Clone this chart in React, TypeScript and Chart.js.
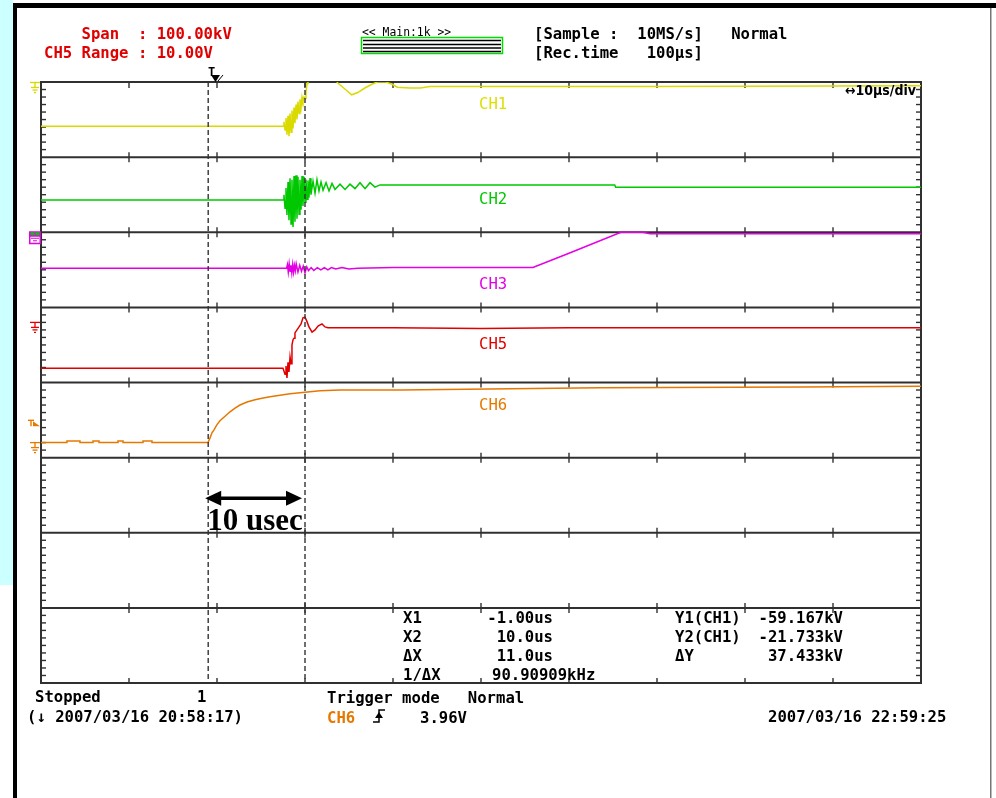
import React, { useEffect, useRef } from "react";
import { Chart, registerables } from "chart.js";

Chart.register(...registerables);

// ---- axes: time in µs (10 µs/div), vertical in divisions ----
const timeMin = -20;
const timeMax = 80;
const timeTicks = [-10, 0, 10, 20, 30, 40, 50, 60, 70];
const divMin = 0;
const divMax = 8;

// ---- traces: [time µs, position in divisions] ----
const ch1: [number, number][] = [
  [-20, 7.41], [7.5, 7.41], [7.61, 7.47], [7.73, 7.36], [7.84, 7.52], [7.95, 7.3], [8.07, 7.55],
  [8.18, 7.28], [8.3, 7.58], [8.41, 7.33], [8.52, 7.62], [8.64, 7.38], [8.75, 7.66], [8.86, 7.45],
  [8.98, 7.7], [9.09, 7.5], [9.2, 7.74], [9.32, 7.58], [9.43, 7.77], [9.55, 7.66], [9.66, 7.8],
  [9.77, 7.74], [9.89, 7.8], [10.0, 7.78], [10.11, 7.86], [10.23, 7.98], [10.34, 8.05], [10.57, 8.15],
  [11.1, 8.3], [12.3, 8.35], [13.4, 8.05], [13.7, 7.99], [14.6, 7.9], [15.3, 7.83], [16.0, 7.86],
  [16.8, 7.92], [17.6, 7.97], [18.2, 8.0], [19.2, 8.0], [19.9, 7.97], [20.5, 7.93], [21.9, 7.92],
  [23.1, 7.92], [24.2, 7.94], [50, 7.94], [80, 7.95],
];

const ch2: [number, number][] = [
  [-20, 6.43], [7.5, 6.43], [7.61, 6.5], [7.73, 6.32], [7.84, 6.59], [7.95, 6.23], [8.07, 6.67],
  [8.18, 6.16], [8.3, 6.72], [8.41, 6.11], [8.52, 6.7], [8.64, 6.07], [8.75, 6.75], [8.86, 6.14],
  [8.98, 6.76], [9.09, 6.18], [9.2, 6.74], [9.32, 6.24], [9.43, 6.7], [9.55, 6.3], [9.66, 6.75],
  [9.77, 6.35], [9.89, 6.74], [10.0, 6.4], [10.11, 6.7], [10.23, 6.44], [10.34, 6.69], [10.45, 6.46],
  [10.57, 6.72], [10.68, 6.5], [10.91, 6.68], [11.14, 6.52], [11.36, 6.7], [11.59, 6.55],
  [11.82, 6.67], [12.05, 6.56], [12.39, 6.66], [12.73, 6.55], [13.07, 6.65], [13.41, 6.57],
  [13.98, 6.64], [14.55, 6.57], [15.11, 6.64], [15.68, 6.58], [16.25, 6.66], [16.82, 6.58],
  [17.39, 6.66], [17.95, 6.6], [18.52, 6.63], [20.8, 6.63], [45.2, 6.63], [45.3, 6.6], [80, 6.6],
];

const ch3: [number, number][] = [
  [-20, 5.52], [7.9, 5.52], [8.0, 5.57], [8.1, 5.47], [8.2, 5.58], [8.3, 5.48], [8.4, 5.56],
  [8.5, 5.46], [8.6, 5.57], [8.7, 5.47], [8.8, 5.56], [8.9, 5.49], [9.0, 5.58], [9.2, 5.47],
  [9.4, 5.56], [9.6, 5.48], [9.8, 5.55], [10.0, 5.46], [10.2, 5.54], [10.4, 5.49], [10.7, 5.53],
  [11.0, 5.49], [11.4, 5.53], [11.8, 5.5], [12.2, 5.53], [12.6, 5.5], [13.0, 5.53], [13.5, 5.51],
  [14.2, 5.53], [15.0, 5.51], [16.0, 5.52], [20.0, 5.53], [35.9, 5.53], [40.0, 5.72],
  [45.9, 6.0], [48.4, 6.0], [49.2, 5.98], [80, 5.98],
];

const ch5: [number, number][] = [
  [-20, 4.19], [7.5, 4.19], [7.73, 4.11], [7.84, 4.22], [7.95, 4.06], [8.07, 4.27], [8.18, 4.14],
  [8.3, 4.34], [8.41, 4.25], [8.52, 4.5], [8.64, 4.57], [8.75, 4.59], [8.86, 4.66], [9.09, 4.7],
  [9.32, 4.74], [9.55, 4.78], [9.77, 4.86], [10.0, 4.87], [10.23, 4.81], [10.45, 4.74], [10.8, 4.67],
  [11.14, 4.7], [11.48, 4.75], [11.93, 4.78], [12.27, 4.74], [12.61, 4.73], [20, 4.73], [30, 4.72],
  [40, 4.73], [80, 4.73],
];

const ch6: [number, number][] = [
  [-20, 3.2], [-17.05, 3.2], [-17.05, 3.22], [-15.57, 3.22], [-15.57, 3.2], [-14.09, 3.2],
  [-14.09, 3.22], [-13.41, 3.22], [-13.41, 3.2], [-11.25, 3.2], [-11.25, 3.22], [-10.68, 3.22],
  [-10.68, 3.2], [-8.41, 3.2], [-8.41, 3.22], [-7.39, 3.22], [-7.39, 3.2], [-1.02, 3.2],
  [-0.8, 3.26], [-0.57, 3.33], [-0.34, 3.37], [0, 3.44], [0.34, 3.49], [0.91, 3.55], [1.48, 3.61],
  [2.05, 3.66], [2.61, 3.7], [3.41, 3.74], [4.32, 3.77], [5.11, 3.79], [6.02, 3.81], [7.16, 3.83],
  [8.3, 3.85], [10.0, 3.87], [11.7, 3.89], [14.0, 3.9], [20.8, 3.9], [43.5, 3.93], [66.3, 3.94],
  [80, 3.95],
];

const channelNames = ["CH1", "CH2", "CH3", "CH5", "CH6"];
const channelColors = ["#dada00", "#00c800", "#e400e4", "#e00000", "#e67800"];
const channelData = [ch1, ch2, ch3, ch5, ch6];

const cursorTimes = [-1, 10];
const triggerTime = 0;

const W = 996;
const H = 798;
const MONO = "bold 15.6px 'DejaVu Sans Mono', 'Liberation Mono', monospace";
const MONO_LABEL = "15.6px 'DejaVu Sans Mono', 'Liberation Mono', monospace";
const MONO_SMALL = "11.4px 'DejaVu Sans Mono', 'Liberation Mono', monospace";

function text(ctx: CanvasRenderingContext2D, s: string, x: number, cy: number, color: string, font = MONO, align: CanvasTextAlign = "left") {
  ctx.font = font;
  ctx.fillStyle = color;
  ctx.textAlign = align;
  ctx.textBaseline = "alphabetic";
  ctx.fillText(s, x, cy + 5.6);
}

function seg(ctx: CanvasRenderingContext2D, x1: number, y1: number, x2: number, y2: number) {
  ctx.beginPath();
  ctx.moveTo(x1, y1);
  ctx.lineTo(x2, y2);
  ctx.stroke();
}

function ground(ctx: CanvasRenderingContext2D, cx: number, y: number, color: string) {
  ctx.strokeStyle = color;
  ctx.lineWidth = 1.3;
  seg(ctx, cx - 5, y, cx + 5, y);
  seg(ctx, cx, y, cx, y + 5);
  seg(ctx, cx - 4, y + 5, cx + 4, y + 5);
  seg(ctx, cx - 2.5, y + 7.5, cx + 2.5, y + 7.5);
  seg(ctx, cx - 1, y + 10, cx + 1, y + 10);
}

const scopePlugin = {
  id: "scope",
  beforeDraw(chart: any) {
    const ctx: CanvasRenderingContext2D = chart.ctx;
    ctx.save();
    ctx.fillStyle = "#ffffff";
    ctx.fillRect(0, 0, W, H);
    ctx.fillStyle = "#ccffff";
    ctx.fillRect(0, 0, 13, 585);
    ctx.fillStyle = "#000";
    ctx.fillRect(13, 3, 4, H - 3);
    ctx.fillRect(13, 3, W - 13, 5);
    ctx.fillStyle = "#777";
    ctx.fillRect(990, 8, 1.5, H - 8);
    ctx.restore();
  },
  beforeDatasetsDraw(chart: any) {
    const ctx: CanvasRenderingContext2D = chart.ctx;
    const { left, right, top, bottom } = chart.chartArea;
    const xs = chart.scales.x;
    const ys = chart.scales.y;
    ctx.save();
    ctx.strokeStyle = "#303030";
    ctx.lineWidth = 2;
    for (let d = divMin; d <= divMax; d++) {
      const y = ys.getPixelForValue(d);
      seg(ctx, left - 1, y, right + 1, y);
    }
    seg(ctx, left, top, left, bottom);
    seg(ctx, right, top, right, bottom);
    ctx.lineWidth = 1.4;
    for (const t of timeTicks) {
      const x = xs.getPixelForValue(t);
      for (let d = divMin; d <= divMax; d++) {
        const y = ys.getPixelForValue(d);
        const up = d === divMax ? 0 : 5;
        const down = d === divMin ? 0 : 5;
        seg(ctx, x, y - up, x, y + down + (d === divMax ? 1 : 0));
      }
    }
    for (let k = 1; k < divMax * 10; k++) {
      if (k % 10 === 0) continue;
      const y = ys.getPixelForValue(k / 10);
      seg(ctx, left, y, left + 5, y);
      seg(ctx, right - 5, y, right, y);
    }
    ctx.restore();
  },
  afterDatasetsDraw(chart: any) {
    const ctx: CanvasRenderingContext2D = chart.ctx;
    const { top, bottom } = chart.chartArea;
    const xs = chart.scales.x;
    const ys = chart.scales.y;
    ctx.save();

    // cursors
    ctx.strokeStyle = "#333";
    ctx.lineWidth = 1.4;
    ctx.setLineDash([5, 3]);
    for (const t of cursorTimes) {
      const x = xs.getPixelForValue(t);
      seg(ctx, x, top, x, bottom);
    }
    ctx.setLineDash([]);

    // trigger marker
    const tx = xs.getPixelForValue(triggerTime);
    ctx.font = "bold 12px 'DejaVu Sans Mono', monospace";
    ctx.fillStyle = "#000";
    ctx.textAlign = "left";
    ctx.textBaseline = "alphabetic";
    ctx.fillText("T", tx - 9, top - 6);
    ctx.beginPath();
    ctx.moveTo(tx - 6, top - 7);
    ctx.lineTo(tx + 3, top - 7);
    ctx.lineTo(tx - 1.5, top);
    ctx.closePath();
    ctx.fill();
    ctx.strokeStyle = "#000";
    ctx.lineWidth = 1;
    seg(ctx, tx + 1, top - 1, tx + 6, top - 7);

    // channel labels
    const labelDiv = [7.72, 6.45, 5.32, 4.52, 3.71];
    channelNames.forEach((n, i) => {
      text(ctx, n, 479, ys.getPixelForValue(labelDiv[i]), i === 0 ? "#dede00" : channelColors[i], MONO_LABEL);
    });

    // left channel markers
    ground(ctx, 35, ys.getPixelForValue(8) + 0.5, "#d8d800");
    ground(ctx, 35, ys.getPixelForValue(4.8), "#e00000");
    ground(ctx, 35, ys.getPixelForValue(3.2), "#e67800");
    // CH3 box
    const by = ys.getPixelForValue(6);
    ctx.fillStyle = "#e400e4";
    ctx.fillRect(29, by - 1, 12, 13);
    ctx.fillStyle = "#00c800";
    ctx.fillRect(30.5, by, 4, 3);
    ctx.fillRect(35.5, by, 4, 3);
    ctx.fillStyle = "#fff";
    ctx.fillRect(30.5, by + 4.5, 9, 6);
    ctx.strokeStyle = "#e400e4";
    ctx.lineWidth = 1;
    seg(ctx, 31, by + 6, 39, by + 6);
    seg(ctx, 33, by + 8.5, 37, by + 8.5);
    // CH6 trigger level marker
    const ty = ys.getPixelForValue(3.47);
    ctx.strokeStyle = "#e67800";
    ctx.lineWidth = 1.4;
    seg(ctx, 28, ty - 2, 34, ty - 2);
    seg(ctx, 31, ty - 2, 31, ty + 4);
    ctx.fillStyle = "#e67800";
    ctx.beginPath();
    ctx.moveTo(33, ty - 1);
    ctx.lineTo(33, ty + 4);
    ctx.lineTo(40, ty + 4);
    ctx.closePath();
    ctx.fill();

    // 10 usec arrow
    const x1 = xs.getPixelForValue(cursorTimes[0]) - 3;
    const x2 = xs.getPixelForValue(cursorTimes[1]) - 3;
    const ay = ys.getPixelForValue(2.46);
    ctx.strokeStyle = "#000";
    ctx.fillStyle = "#000";
    ctx.lineWidth = 3.5;
    seg(ctx, x1 + 10, ay, x2 - 10, ay);
    ctx.beginPath();
    ctx.moveTo(x1, ay);
    ctx.lineTo(x1 + 16, ay - 7.5);
    ctx.lineTo(x1 + 16, ay + 7.5);
    ctx.closePath();
    ctx.fill();
    ctx.beginPath();
    ctx.moveTo(x2, ay);
    ctx.lineTo(x2 - 16, ay - 7.5);
    ctx.lineTo(x2 - 16, ay + 7.5);
    ctx.closePath();
    ctx.fill();
    ctx.font = "bold 31px 'Liberation Serif', 'Times New Roman', serif";
    ctx.textAlign = "left";
    ctx.fillText("10 usec", x1 + 2, ay + 32);

    // header
    text(ctx, "    Span  : 100.00kV", 44, 33, "#e00000");
    text(ctx, "CH5 Range : 10.00V", 44, 52, "#e00000");
    text(ctx, "<< Main:1k >>", 362, 30, "#000", MONO_SMALL);
    ctx.strokeStyle = "#00dd00";
    ctx.lineWidth = 1.5;
    ctx.strokeRect(361.5, 37.5, 141, 16);
    ctx.strokeStyle = "#000";
    ctx.lineWidth = 1.3;
    for (const ly of [40.5, 44.5, 48, 51.5]) seg(ctx, 363, ly, 501, ly);
    text(ctx, "[Sample :  10MS/s]   Normal", 534, 33, "#000");
    text(ctx, "[Rec.time   100\u00b5s]", 534, 52, "#000");

    // time/div
    ctx.font = "bold 14px 'DejaVu Sans Condensed', 'Liberation Sans', sans-serif";
    ctx.fillStyle = "#000";
    ctx.textAlign = "right";
    ctx.fillText("\u219410\u00b5s/div", 916, 95);

    // cursor readout
    text(ctx, "X1", 403, 617, "#000");
    text(ctx, "X2", 403, 636, "#000");
    text(ctx, "\u0394X", 403, 655, "#000");
    text(ctx, "1/\u0394X", 403, 674, "#000");
    text(ctx, "-1.00us", 553, 617, "#000", MONO, "right");
    text(ctx, "10.0us", 553, 636, "#000", MONO, "right");
    text(ctx, "11.0us", 553, 655, "#000", MONO, "right");
    text(ctx, "90.90909kHz", 492, 674, "#000");
    text(ctx, "Y1(CH1)", 675, 617, "#000");
    text(ctx, "Y2(CH1)", 675, 636, "#000");
    text(ctx, "\u0394Y", 675, 655, "#000");
    text(ctx, "-59.167kV", 843, 617, "#000", MONO, "right");
    text(ctx, "-21.733kV", 843, 636, "#000", MONO, "right");
    text(ctx, "37.433kV", 843, 655, "#000", MONO, "right");

    // footer
    text(ctx, "Stopped", 35, 696, "#000");
    text(ctx, "1", 197, 696, "#000");
    text(ctx, "(\u2193 2007/03/16 20:58:17)", 27, 716, "#000");
    text(ctx, "Trigger mode   Normal", 327, 697, "#000");
    text(ctx, "CH6", 327, 717, "#e67800");
    text(ctx, "3.96V", 420, 717, "#000");
    text(ctx, "2007/03/16 22:59:25", 768, 716, "#000");
    // rising edge symbol
    ctx.strokeStyle = "#000";
    ctx.lineWidth = 1.5;
    ctx.beginPath();
    ctx.moveTo(373, 722);
    ctx.lineTo(379, 722);
    ctx.lineTo(379, 710);
    ctx.lineTo(385, 710);
    ctx.stroke();
    ctx.fillStyle = "#000";
    ctx.beginPath();
    ctx.moveTo(379, 712);
    ctx.lineTo(375, 718);
    ctx.lineTo(383, 718);
    ctx.closePath();
    ctx.fill();

    ctx.restore();
  },
};

export default function App() {
  const ref = useRef<HTMLCanvasElement | null>(null);
  useEffect(() => {
    if (!ref.current) return;
    const chart = new Chart(ref.current, {
      type: "line",
      data: {
        datasets: channelData.map((d, i) => ({
          label: channelNames[i],
          data: d.map(([x, y]) => ({ x, y })),
          borderColor: channelColors[i],
          borderWidth: 1.5,
          pointRadius: 0,
          tension: 0,
          fill: false,
        })),
      },
      options: {
        animation: false,
        responsive: false,
        devicePixelRatio: 1,
        events: [],
        layout: { padding: { left: 41, top: 82, right: 75, bottom: 115 } },
        plugins: { legend: { display: false }, tooltip: { enabled: false }, title: { display: false } },
        scales: {
          x: { type: "linear", min: timeMin, max: timeMax, display: false },
          y: { type: "linear", min: divMin, max: divMax, display: false },
        },
      },
      plugins: [scopePlugin],
    } as any);
    return () => chart.destroy();
  }, []);
  return (
    <div style={{ position: "absolute", left: 0, top: 0, width: W, height: H }}>
      <canvas ref={ref} width={W} height={H} style={{ display: "block" }} />
    </div>
  );
}
